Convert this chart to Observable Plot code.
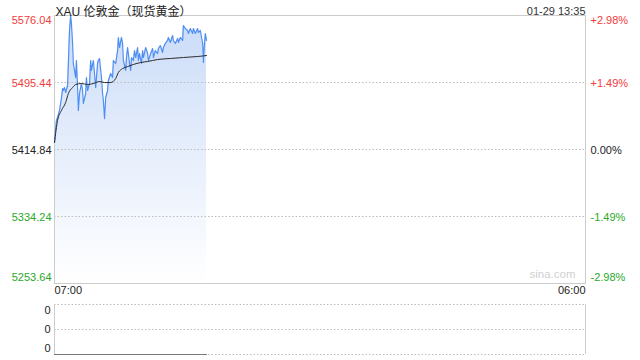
<!DOCTYPE html>
<html>
<head>
<meta charset="utf-8">
<script src="https://cdn.jsdelivr.net/npm/d3@7"></script>
<script src="https://cdn.jsdelivr.net/npm/@observablehq/plot@0.6"></script>
<style>
  html, body { margin: 0; padding: 0; background: #fff; }
  #wrap { width: 640px; height: 360px; position: relative; overflow: hidden; }
  #wrap svg { display: block; }
</style>
</head>
<body>
<div id="wrap"></div>
<script>
// ---- data ----
const titleText = "XAU 伦敦金（现货黄金）";
const stampText = "01-29 13:35";
const watermarkText = "sina.com";
const day = "2026-01-29";
const nextDay = "2026-01-30";
const startTime = "07:00";
const endTime = "06:00";

const times = ["07:00","07:03","07:05","07:08","07:13","07:18","07:21","07:23","07:26","07:29","07:34","07:36","07:39","07:42","07:44","07:47","07:49","07:55","07:57","08:00","08:02","08:05","08:10","08:13","08:15","08:21","08:23","08:26","08:31","08:34","08:36","08:41","08:44","08:47","08:52","08:54","08:57","09:02","09:05","09:07","09:10","09:13","09:18","09:20","09:26","09:31","09:33","09:39","09:44","09:46","09:49","09:54","09:57","09:59","10:05","10:07","10:10","10:15","10:18","10:20","10:25","10:28","10:31","10:36","10:38","10:41","10:46","10:49","10:51","10:57","11:02","11:04","11:10","11:15","11:17","11:22","11:28","11:30","11:35","11:41","11:43","11:48","11:54","11:56","12:01","12:07","12:09","12:14","12:20","12:22","12:27","12:33","12:35","12:40","12:46","12:48","12:53","12:59","13:01","13:06","13:12","13:14","13:19","13:25","13:27","13:29","13:32","13:35"];
const prices = [5423.3,5440.1,5449.7,5453.3,5461.8,5476.2,5488.2,5485.8,5489.4,5483.4,5491.8,5518.3,5558.0,5576.0,5566.4,5542.4,5518.3,5501.4,5521.9,5489.4,5461.8,5482.2,5494.2,5485.8,5470.2,5482.2,5501.4,5485.8,5494.2,5521.9,5509.9,5521.9,5506.3,5489.4,5518.3,5521.9,5524.3,5501.4,5482.2,5473.8,5452.1,5477.4,5485.8,5497.8,5506.3,5501.4,5521.9,5518.3,5533.9,5549.6,5537.5,5549.6,5542.4,5521.9,5509.9,5525.5,5537.5,5518.3,5509.9,5525.5,5521.9,5533.9,5525.5,5537.5,5521.9,5530.3,5518.3,5533.9,5525.5,5537.5,5530.3,5521.9,5530.3,5536.3,5525.5,5533.9,5530.3,5536.3,5539.9,5531.5,5537.5,5542.4,5546.0,5549.6,5543.6,5552.0,5546.0,5542.4,5548.4,5543.6,5549.6,5546.0,5564.0,5560.4,5558.0,5554.4,5560.4,5554.4,5560.4,5554.4,5560.4,5555.6,5558.0,5542.4,5519.5,5537.5,5554.4,5546.0];

const avgTimes = ["07:00","07:08","07:18","07:29","07:36","07:47","07:55","08:10","08:26","08:41","08:57","09:10","09:26","09:39","09:46","09:57","10:10","10:25","10:44","11:02","11:28","12:01","12:35","13:12","13:35"];
const avgPrices = [5423.3,5449.7,5461.8,5471.4,5482.2,5489.4,5493.0,5494.2,5493.0,5494.2,5496.6,5495.4,5495.4,5500.2,5507.4,5512.2,5514.6,5517.1,5519.5,5520.7,5523.1,5524.3,5525.5,5526.7,5527.9];

const priceTicks = [5576.04, 5495.44, 5414.84, 5334.24, 5253.64];
const priceLabels = ["5576.04","5495.44","5414.84","5334.24","5253.64"];
const pctLabels = ["+2.98%","+1.49%","0.00%","-1.49%","-2.98%"];
const tickColors = ["#f23a3a","#f23a3a","#222222","#2aa82a","#2aa82a"];

const volLevels = [1, 0.5, 0];
const volLabels = ["0","0","0"];
const volumes = times.map(() => 0);

// ---- build ----
const toDate = (t, d = day) => new Date(`${d}T${t}:00Z`);
const t0 = toDate(startTime);
const t1 = toDate(endTime, nextDay);
const series = times.map((t, i) => ({t: toDate(t), p: prices[i]}));
const avg = avgTimes.map((t, i) => ({t: toDate(t), p: avgPrices[i]}));
const ticks = priceTicks.map((v, i) => ({v, label: priceLabels[i], pct: pctLabels[i], color: tickColors[i], i}));
const yLow = priceTicks[priceTicks.length - 1];
const yHigh = priceTicks[0];

const font = "'Liberation Sans', Arial, 'Noto Sans CJK SC', sans-serif";

function tickText(subset, dy) {
  return [
    Plot.text(subset, {y: "v", text: "label", fill: "color", frameAnchor: "left", textAnchor: "end", dx: -3, dy, fontSize: 11}),
    Plot.text(subset, {y: "v", text: "pct", fill: "color", frameAnchor: "right", textAnchor: "start", dx: 5, dy, fontSize: 11})
  ];
}

const main = Plot.plot({
  width: 640, height: 300,
  marginTop: 15, marginBottom: 17, marginLeft: 54, marginRight: 55,
  style: {fontFamily: font, fontSize: "11px", background: "white", overflow: "visible"},
  x: {type: "utc", domain: [t0, t1], axis: null},
  y: {domain: [yLow, yHigh], axis: null},
  marks: [
    Plot.areaY(series, {x: "t", y1: yLow, y2: "p", fill: "url(#goldGrad)", curve: "linear"}),
    Plot.ruleY(priceTicks.slice(1, 4), {stroke: "#bdbdbd", strokeDasharray: "1.5,2"}),
    Plot.frame({stroke: "#cccccc"}),
    Plot.line(series, {x: "t", y: "p", stroke: "#4f8ef2", strokeWidth: 1.2}),
    Plot.line(avg, {x: "t", y: "p", stroke: "#2b2b2b", strokeWidth: 1, curve: "monotone-x"}),
    ...tickText(ticks.filter(d => d.i === 0), 5),
    ...tickText(ticks.filter(d => d.i > 0 && d.i < 4), 1),
    ...tickText(ticks.filter(d => d.i === 4), -6),
    Plot.text([titleText], {text: d => d, frameAnchor: "top-left", textAnchor: "start", dx: 1, dy: -8, fontSize: 12, fill: "#222"}),
    Plot.text([stampText], {text: d => d, frameAnchor: "top-right", textAnchor: "end", dy: -8, fontSize: 11, fill: "#333"}),
    Plot.text([watermarkText], {text: d => d, frameAnchor: "bottom-right", textAnchor: "end", dx: -10, dy: -6, fontSize: 11.5, fill: "#d0d0d0"}),
    Plot.text([t0], {x: d => d, text: () => startTime, frameAnchor: "bottom", textAnchor: "start", dy: 10, fontSize: 11, fill: "#222"}),
    Plot.text([t1], {x: d => d, text: () => endTime, frameAnchor: "bottom", textAnchor: "end", dy: 10, fontSize: 11, fill: "#222"})
  ]
});

const defs = d3.select(main).insert("defs", ":first-child");
const g = defs.append("linearGradient").attr("id", "goldGrad").attr("x1", 0).attr("y1", 0).attr("x2", 0).attr("y2", 1);
g.append("stop").attr("offset", "0%").attr("stop-color", "#c9dbf8");
g.append("stop").attr("offset", "45%").attr("stop-color", "#e3ecfb");
g.append("stop").attr("offset", "100%").attr("stop-color", "#ffffff");

const volData = volumes.map((v, i) => ({t: toDate(times[i]), v}));
const volTicks = volLevels.map((v, i) => ({v, label: volLabels[i], i}));
const vol = Plot.plot({
  width: 640, height: 60,
  marginTop: 4, marginBottom: 6, marginLeft: 54, marginRight: 55,
  style: {fontFamily: font, fontSize: "11px", background: "white", overflow: "visible"},
  x: {type: "utc", domain: [t0, t1], axis: null},
  y: {domain: [0, 1], axis: null},
  marks: [
    Plot.ruleY(volLevels, {stroke: "#bdbdbd", strokeDasharray: "1.5,2"}),
    Plot.ruleX([t0, t1], {stroke: "#cccccc"}),
    Plot.line(volData, {x: "t", y: "v", stroke: "#777", strokeWidth: 1.2}),
    Plot.text(volTicks.filter(d => d.i === 0), {y: "v", text: "label", frameAnchor: "left", textAnchor: "end", dx: -4, dy: 6, fontSize: 11, fill: "#222"}),
    Plot.text(volTicks.filter(d => d.i === 1), {y: "v", text: "label", frameAnchor: "left", textAnchor: "end", dx: -4, dy: 0, fontSize: 11, fill: "#222"}),
    Plot.text(volTicks.filter(d => d.i === 2), {y: "v", text: "label", frameAnchor: "left", textAnchor: "end", dx: -4, dy: -6, fontSize: 11, fill: "#222"})
  ]
});

const wrap = document.getElementById("wrap");
wrap.appendChild(main);
wrap.appendChild(vol);
</script>
</body>
</html>
